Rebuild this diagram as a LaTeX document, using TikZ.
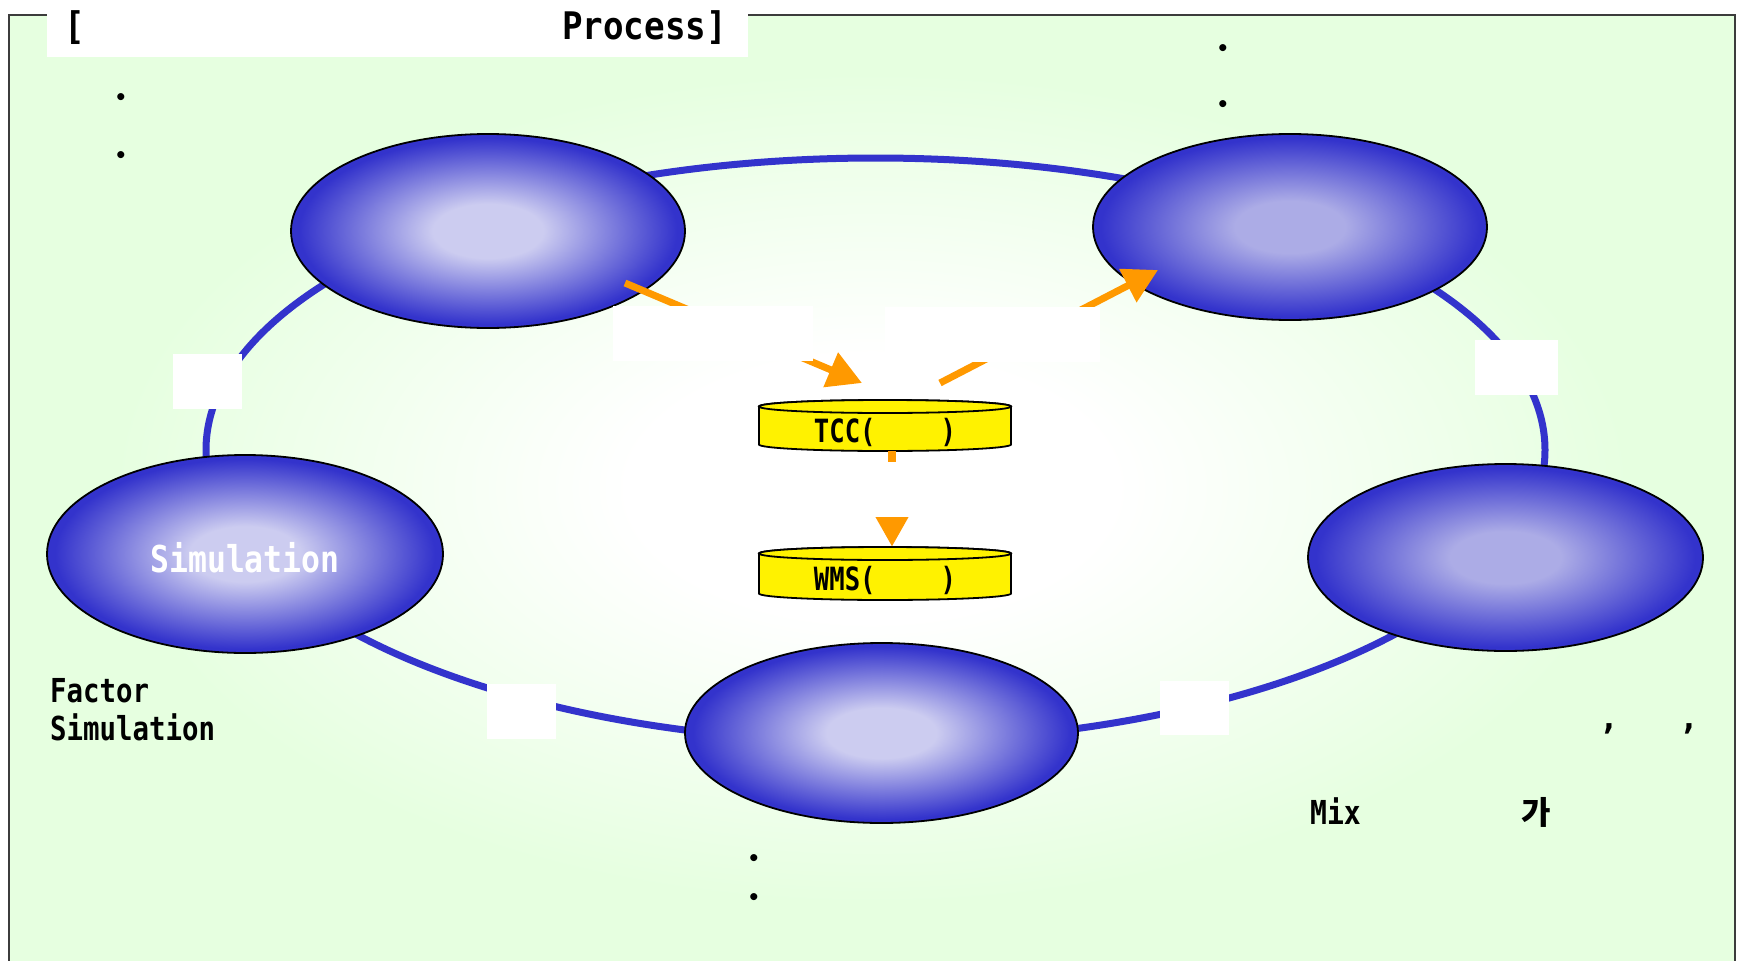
\documentclass[tikz,border=0pt]{standalone}
\usepackage{fontspec}
\setmainfont{DejaVu Sans Mono}
\newfontfamily\krfont{Noto Sans CJK KR}
\usetikzlibrary{shapes.geometric,arrows.meta}
\definecolor{bggreen}{RGB}{230,255,224}
\definecolor{ringblue}{RGB}{51,51,204}
\definecolor{blobin}{RGB}{204,204,240}
\definecolor{blobinb}{RGB}{172,172,230}
\definecolor{arroworange}{RGB}{255,153,0}
\definecolor{framegray}{RGB}{60,60,60}
\pgfdeclareradialshading{bgshade}{\pgfpointorigin}{color(0bp)=(white);color(7bp)=(white);color(22bp)=(bggreen);color(50bp)=(bggreen)}
\pgfdeclareradialshading{blobA}{\pgfpointorigin}{color(0bp)=(blobin);color(7bp)=(blobin);color(24bp)=(ringblue);color(50bp)=(ringblue)}
\pgfdeclareradialshading{blobB}{\pgfpointorigin}{color(0bp)=(blobinb);color(7bp)=(blobinb);color(24bp)=(ringblue);color(50bp)=(ringblue)}
\newcommand{\nar}[2]{\scalebox{#1}[1]{#2}}
\begin{document}
\begin{tikzpicture}[x=1pt,y=-1pt,
  blob/.style={ellipse, draw=black, line width=1.8pt, shade, shading=blobA, minimum width=394pt, minimum height=194pt, inner sep=0pt},
  wbox/.style={fill=white, inner sep=0pt},
  ring/.style={draw=ringblue, line width=7pt},
  oarrow/.style={draw=arroworange, line width=7pt, -{Triangle[length=34pt,width=36pt]}},
  cyl/.style={fill=yellow, draw=black, line width=1.8pt},
  cylnode/.style={minimum width=252pt, inner sep=0pt},
  txt/.style={inner sep=0pt, text=black},
  bul/.style={inner sep=0pt, font=\fontsize{20}{22}\bfseries}
]
\useasboundingbox (0,0) rectangle (1738,961);
% background and frame
\shade[shading=bgshade] (9,15) rectangle (1735,961);
\draw[framegray, line width=2pt] (9,15) rectangle (1735,1000);
\node[wbox, minimum width=701pt, minimum height=57pt, anchor=north west] (titlebox) at (47,0) {};
% ring
\draw[ring] (875.5,450) ellipse [x radius=669.5, y radius=292];
% small label boxes on ring
\node[wbox, minimum width=69pt, minimum height=55pt] (sqL) at (207.5,381.5) {};
\node[wbox, minimum width=83pt, minimum height=55pt] (sqR) at (1516.5,367.5) {};
\node[wbox, minimum width=69pt, minimum height=55pt] (sqBL) at (521.5,711.5) {};
\node[wbox, minimum width=69pt, minimum height=54pt] (sqBR) at (1194.5,708) {};
% ellipses
\node[blob] (tl) at (488,231) {};
\node[blob, shading=blobB, minimum height=186pt] (tr) at (1290,227) {};
\node[blob, minimum width=396pt, minimum height=198pt, text=white, text height=36pt, text depth=0pt,
      font=\fontsize{37}{40}\bfseries] (lf) at (245,554) {\nar{0.85}{Simulation}};
\node[blob, shading=blobB, minimum width=395pt, minimum height=187pt] (rt) at (1505.5,557.5) {};
\node[blob, minimum width=393pt, minimum height=180pt] (bt) at (881.5,733) {};
% cylinders
\filldraw[cyl] (759,406.5) -- (759,444.5) arc[start angle=180, end angle=0, x radius=126, y radius=6.5] -- (1011,406.5) arc[start angle=0, end angle=-180, x radius=126, y radius=6.5] -- cycle;
\filldraw[cyl] (885,406.5) ellipse [x radius=126, y radius=6.5];
\node[cylnode, minimum height=51pt] (tcc) at (885,425.5) {};
\filldraw[cyl] (759,553.5) -- (759,593.5) arc[start angle=180, end angle=0, x radius=126, y radius=6.5] -- (1011,553.5) arc[start angle=0, end angle=-180, x radius=126, y radius=6.5] -- cycle;
\filldraw[cyl] (885,553.5) ellipse [x radius=126, y radius=6.5];
\node[cylnode, minimum height=53pt] (wms) at (885,573.5) {};
% orange arrows
\coordinate (a1s) at (625,283);
\coordinate (a1e) at (862,383);
\coordinate (a2s) at (940,383);
\coordinate (a2e) at (1158,270);
\draw[oarrow] (a1s) -- (a1e);
\draw[oarrow] (a2s) -- (a2e);
\draw[draw=arroworange, line width=8pt, -{Triangle[length=30pt,width=31pt]}] ([xshift=7pt]tcc.south) -- ([xshift=7pt]wms.north);
% middle label boxes
\node[wbox, minimum width=200pt, minimum height=55pt] (lblA) at (713,333.5) {};
\node[wbox, minimum width=215pt, minimum height=55pt] (lblB) at (992.5,334.5) {};
\node[wbox, minimum width=168pt, minimum height=55pt] (lblC) at (874,489.5) {};
% texts
\node[txt, anchor=base west, font=\fontsize{38}{40}\bfseries] (t1) at (64,39) {\nar{0.9}{[}};
\node[txt, anchor=base east, font=\fontsize{38}{40}\bfseries] (t2) at (727,39) {\nar{0.9}{Process]}};
\node[txt, anchor=base, font=\fontsize{32}{34}\bfseries] (tcct) at (885,442) {\nar{0.8}{TCC(}\hspace{65pt}\nar{0.8}{)}};
\node[txt, anchor=base, font=\fontsize{32}{34}\bfseries] (wmst) at (885,590) {\nar{0.8}{WMS(}\hspace{65pt}\nar{0.8}{)}};
\node[txt, anchor=base west, font=\fontsize{33}{35}\bfseries] (f1) at (50,702) {\nar{0.83}{Factor}};
\node[txt, anchor=base west, font=\fontsize{33}{35}\bfseries] (f2) at (50,740) {\nar{0.83}{Simulation}};
\node[txt, anchor=base west, font=\fontsize{33}{35}\bfseries] (mix) at (1310,824) {\nar{0.85}{Mix}};
\node[txt, anchor=base west, font=\fontsize{32}{34}\krfont\bfseries] (ga) at (1521,824) {가};
\node[txt, anchor=base, font=\fontsize{33}{35}\bfseries] (c1) at (1609,729) {,};
\node[txt, anchor=base, font=\fontsize{33}{35}\bfseries] (c2) at (1689,729) {,};
\node[bul] (b1) at (121,99) {•};
\node[bul] (b2) at (121,157) {•};
\node[bul] (b3) at (1223,50) {•};
\node[bul] (b4) at (1223,106) {•};
\node[bul] (b5) at (754,860) {•};
\node[bul] (b6) at (754,899) {•};
\end{tikzpicture}
\end{document}
